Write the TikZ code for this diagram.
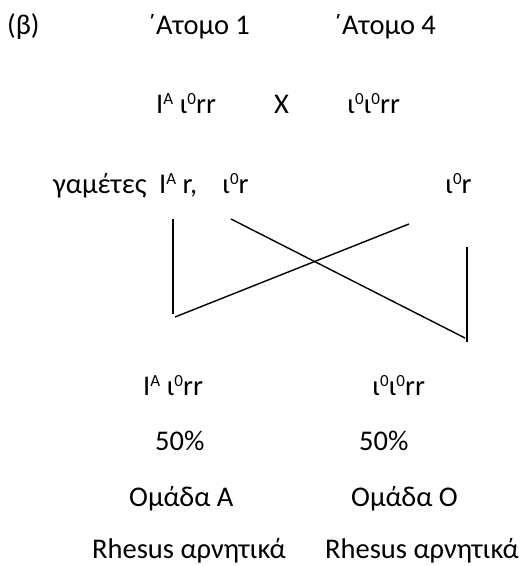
\documentclass[tikz,border=0pt]{standalone}
\usepackage{fontspec}
\setmainfont{Carlito}
\newcommand{\supr}[1]{\raisebox{8.5pt}{\fontsize{17}{19}\selectfont #1}}
\begin{document}
\begin{tikzpicture}[x=1pt,y=-1pt,
  txt/.style={anchor=base west,inner sep=0pt,font=\fontsize{28.5}{33}\selectfont},
  link/.style={line width=1.4pt,black}]
\useasboundingbox (0,0) rectangle (522,566);
\node[txt] (beta) at (7,34) {(β)};
\node[txt] (p1) at (147,34) {΄Ατομο 1};
\node[txt] (p4) at (333,34) {΄Ατομο 4};
\node[txt] (g1) at (156,113) {I\supr{A} ι\supr{0}rr};
\node[txt] (x) at (274,113) {X};
\node[txt] (g4) at (347,113) {ι\supr{0}ι\supr{0}rr};
\node[txt] (gam) at (53,193) {γαμέτες};
\node[txt] (gA) at (159,193) {I\supr{A} r,};
\node[txt] (g0) at (222,193) {ι\supr{0}r};
\node[txt] (gam4) at (445,193) {ι\supr{0}r};
\coordinate (a1) at (173,219);
\coordinate (a2) at (173,314);
\coordinate (b1) at (175,317);
\coordinate (b2) at (409,224);
\coordinate (c1) at (231,219);
\coordinate (c2) at (465,338);
\coordinate (d1) at (467,247);
\coordinate (d2) at (467,342);
\draw[link] (a1) -- (a2);
\draw[link] (b1) -- (b2);
\draw[link] (c1) -- (c2);
\draw[link] (d1) -- (d2);
\node[txt] (o1) at (143,395) {I\supr{A} ι\supr{0}rr};
\node[txt] (o4) at (372,395) {ι\supr{0}ι\supr{0}rr};
\node[txt] (f1) at (155,450) {50\%};
\node[txt] (f4) at (359,450) {50\%};
\node[txt] (t1) at (129,506) {Ομάδα Α};
\node[txt] (t4) at (351,506) {Ομάδα Ο};
\node[txt] (r1) at (92,558) {Rhesus αρνητικά};
\node[txt] (r4) at (325,558) {Rhesus αρνητικά};
\end{tikzpicture}
\end{document}
